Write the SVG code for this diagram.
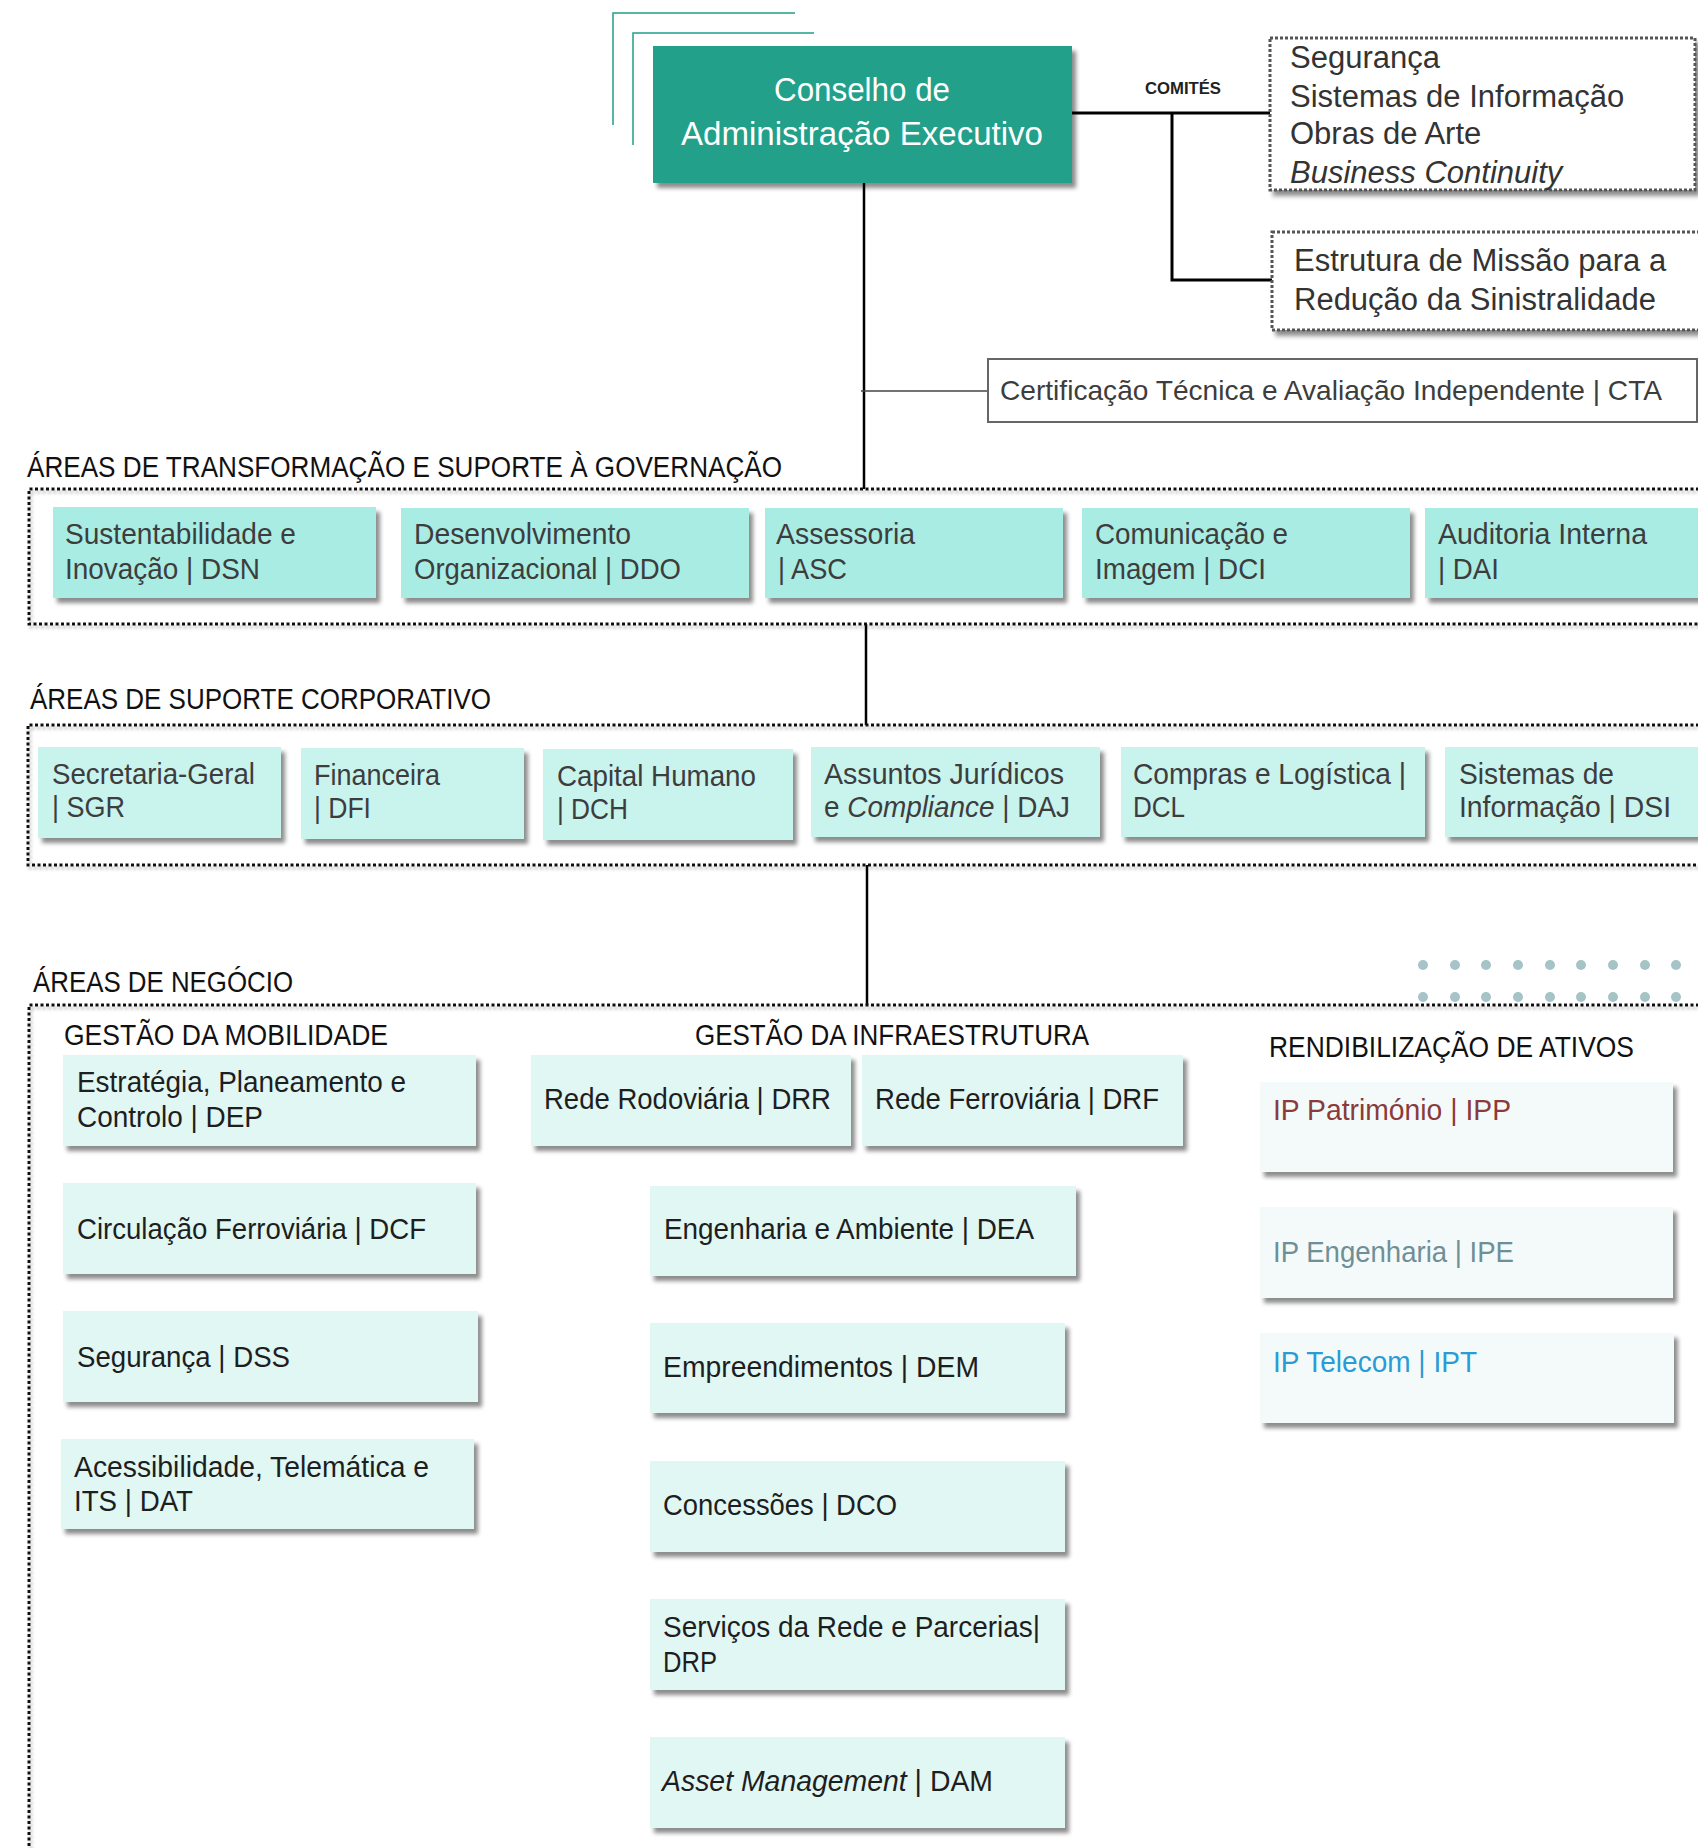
<svg xmlns="http://www.w3.org/2000/svg" width="1698" height="1848" viewBox="0 0 1698 1848">
<defs>
<filter id="sh" x="-10%" y="-20%" width="130%" height="160%">
<feDropShadow dx="4" dy="5" stdDeviation="2.2" flood-color="#000" flood-opacity="0.45"/>
</filter>
<filter id="shf" x="-5%" y="-5%" width="110%" height="120%">
<feDropShadow dx="2" dy="3" stdDeviation="1.5" flood-color="#000" flood-opacity="0.25"/>
</filter>
</defs>
<style>
text { font-family: "Liberation Sans", Arial, sans-serif; }
.n1 { fill: #A8ECE3; filter: url(#sh); }
.n2 { fill: #C9F3ED; filter: url(#sh); }
.n3 { fill: #E0F7F4; filter: url(#sh); }
.n4 { fill: #F4FAFA; filter: url(#sh); }
.tx1 { font-size: 29px; fill: #3d3d3d; }
.tx3 { font-size: 29px; fill: #1e1e1e; }
.hd { font-size: 30px; fill: #111; }
.cm { font-size: 31px; fill: #333; }
.frame { fill: none; stroke: #111; stroke-width: 3; stroke-dasharray: 3 2.5; filter: url(#shf); }
.cbox { fill: #fff; stroke: #555; stroke-width: 3; stroke-dasharray: 3 2; filter: url(#sh); }
.ln { fill: none; stroke: #000; stroke-width: 2.5; }
.lnb { fill: none; stroke: #000; stroke-width: 3; }
.deco { fill: none; stroke: #20A08A; stroke-width: 1.5; }
.dot { fill: #A6C3C7; }
</style>
<rect width="1698" height="1848" fill="#fff"/>

<g id="decoration">
<path class="deco" d="M613,125 V13 H795"/>
<path class="deco" d="M633,145 V33 H814"/>
<g id="dots">
<circle class="dot" cx="1423" cy="965" r="5"/><circle class="dot" cx="1455" cy="965" r="5"/><circle class="dot" cx="1486" cy="965" r="5"/><circle class="dot" cx="1518" cy="965" r="5"/><circle class="dot" cx="1550" cy="965" r="5"/><circle class="dot" cx="1581" cy="965" r="5"/><circle class="dot" cx="1613" cy="965" r="5"/><circle class="dot" cx="1645" cy="965" r="5"/><circle class="dot" cx="1676" cy="965" r="5"/>
<circle class="dot" cx="1423" cy="997" r="5"/><circle class="dot" cx="1455" cy="997" r="5"/><circle class="dot" cx="1486" cy="997" r="5"/><circle class="dot" cx="1518" cy="997" r="5"/><circle class="dot" cx="1550" cy="997" r="5"/><circle class="dot" cx="1581" cy="997" r="5"/><circle class="dot" cx="1613" cy="997" r="5"/><circle class="dot" cx="1645" cy="997" r="5"/><circle class="dot" cx="1676" cy="997" r="5"/>
</g>
</g>

<g id="connectors">
<path class="ln" d="M864,183 V489"/>
<path class="lnb" d="M1072,113 H1270"/>
<path class="lnb" d="M1172,113 V280 H1272"/>
<path d="M861,391 H988" fill="none" stroke="#444" stroke-width="1.6"/>
<path class="ln" d="M866,624 V725"/>
<path class="ln" d="M867,865 V1005"/>
</g>

<g id="frames">
<path class="frame" d="M1710,489 H29 V624 H1710"/>
<path class="frame" d="M1710,725 H28 V865 H1710"/>
<path class="frame" d="M1710,1005 H29 V1860"/>
<text class="hd" x="27" y="477" textLength="755" lengthAdjust="spacingAndGlyphs">ÁREAS DE TRANSFORMAÇÃO E SUPORTE À GOVERNAÇÃO</text>
<text class="hd" x="30" y="709" textLength="461" lengthAdjust="spacingAndGlyphs">ÁREAS DE SUPORTE CORPORATIVO</text>
<text class="hd" x="33" y="992" textLength="260" lengthAdjust="spacingAndGlyphs">ÁREAS DE NEGÓCIO</text>
<text class="hd" x="64" y="1045" textLength="324" lengthAdjust="spacingAndGlyphs">GESTÃO DA MOBILIDADE</text>
<text class="hd" x="695" y="1045" textLength="394" lengthAdjust="spacingAndGlyphs">GESTÃO DA INFRAESTRUTURA</text>
<text class="hd" x="1269" y="1057" textLength="365" lengthAdjust="spacingAndGlyphs">RENDIBILIZAÇÃO DE ATIVOS</text>
<text x="1145" y="94" font-size="17" font-weight="bold" fill="#222" textLength="76" lengthAdjust="spacingAndGlyphs">COMITÉS</text>
</g>

<g id="cae">
<rect x="653" y="46" width="419" height="137" fill="#21A08A" filter="url(#sh)"/>
<text x="862" y="101" font-size="33" fill="#fff" text-anchor="middle" textLength="176" lengthAdjust="spacingAndGlyphs">Conselho de</text>
<text x="862" y="145" font-size="33" fill="#fff" text-anchor="middle" textLength="362" lengthAdjust="spacingAndGlyphs">Administração Executivo</text>
</g>

<g id="comites1">
<rect class="cbox" x="1270" y="38" width="425" height="152"/>
<text class="cm" x="1290" y="68">Segurança</text>
<text class="cm" x="1290" y="107">Sistemas de Informação</text>
<text class="cm" x="1290" y="144">Obras de Arte</text>
<text class="cm" x="1290" y="183" font-style="italic">Business Continuity</text>
</g>

<g id="comites2">
<rect class="cbox" x="1272" y="232" width="440" height="98"/>
<text class="cm" x="1294" y="271">Estrutura de Missão para a</text>
<text class="cm" x="1294" y="310">Redução da Sinistralidade</text>
</g>

<g id="cta">
<rect x="988" y="359" width="709" height="63" fill="#fff" stroke="#666" stroke-width="2"/>
<text x="1000" y="400" font-size="28" fill="#3d3d3d" textLength="662" lengthAdjust="spacingAndGlyphs">Certificação Técnica e Avaliação Independente | CTA</text>
</g>

<g id="dsn">
<rect class="n1" x="53" y="507" width="323" height="91"/>
<text class="tx1" x="65" y="544" textLength="231" lengthAdjust="spacingAndGlyphs">Sustentabilidade e</text>
<text class="tx1" x="65" y="579" textLength="195" lengthAdjust="spacingAndGlyphs">Inovação | DSN</text>
</g>
<g id="ddo">
<rect class="n1" x="401" y="508" width="348" height="90"/>
<text class="tx1" x="414" y="544" textLength="217" lengthAdjust="spacingAndGlyphs">Desenvolvimento</text>
<text class="tx1" x="414" y="579" textLength="267" lengthAdjust="spacingAndGlyphs">Organizacional | DDO</text>
</g>
<g id="asc">
<rect class="n1" x="765" y="508" width="298" height="90"/>
<text class="tx1" x="776" y="544" textLength="139" lengthAdjust="spacingAndGlyphs">Assessoria</text>
<text class="tx1" x="778" y="579" textLength="69" lengthAdjust="spacingAndGlyphs">| ASC</text>
</g>
<g id="dci">
<rect class="n1" x="1082" y="508" width="328" height="90"/>
<text class="tx1" x="1095" y="544" textLength="193" lengthAdjust="spacingAndGlyphs">Comunicação e</text>
<text class="tx1" x="1095" y="579" textLength="171" lengthAdjust="spacingAndGlyphs">Imagem | DCI</text>
</g>
<g id="dai">
<rect class="n1" x="1425" y="508" width="300" height="90"/>
<text class="tx1" x="1438" y="544" textLength="209" lengthAdjust="spacingAndGlyphs">Auditoria Interna</text>
<text class="tx1" x="1438" y="579" textLength="61" lengthAdjust="spacingAndGlyphs">| DAI</text>
</g>

<g id="sgr">
<rect class="n2" x="38" y="747" width="243" height="91"/>
<text class="tx1" x="52" y="784" textLength="203" lengthAdjust="spacingAndGlyphs">Secretaria-Geral</text>
<text class="tx1" x="52" y="817" textLength="73" lengthAdjust="spacingAndGlyphs">| SGR</text>
</g>
<g id="dfi">
<rect class="n2" x="301" y="748" width="223" height="91"/>
<text class="tx1" x="314" y="785" textLength="126" lengthAdjust="spacingAndGlyphs">Financeira</text>
<text class="tx1" x="314" y="818" textLength="57" lengthAdjust="spacingAndGlyphs">| DFI</text>
</g>
<g id="dch">
<rect class="n2" x="543" y="749" width="250" height="91"/>
<text class="tx1" x="557" y="786" textLength="199" lengthAdjust="spacingAndGlyphs">Capital Humano</text>
<text class="tx1" x="557" y="819" textLength="71" lengthAdjust="spacingAndGlyphs">| DCH</text>
</g>
<g id="daj">
<rect class="n2" x="811" y="747" width="289" height="90"/>
<text class="tx1" x="824" y="784" textLength="240" lengthAdjust="spacingAndGlyphs">Assuntos Jurídicos</text>
<text class="tx1" x="824" y="817" textLength="246" lengthAdjust="spacingAndGlyphs">e <tspan font-style="italic">Compliance</tspan> | DAJ</text>
</g>
<g id="dcl">
<rect class="n2" x="1121" y="747" width="304" height="90"/>
<text class="tx1" x="1133" y="784" textLength="273" lengthAdjust="spacingAndGlyphs">Compras e Logística |</text>
<text class="tx1" x="1133" y="817" textLength="52" lengthAdjust="spacingAndGlyphs">DCL</text>
</g>
<g id="dsi">
<rect class="n2" x="1445" y="747" width="280" height="90"/>
<text class="tx1" x="1459" y="784" textLength="155" lengthAdjust="spacingAndGlyphs">Sistemas de</text>
<text class="tx1" x="1459" y="817" textLength="212" lengthAdjust="spacingAndGlyphs">Informação | DSI</text>
</g>

<g id="dep">
<rect class="n3" x="63" y="1055" width="413" height="91"/>
<text class="tx3" x="77" y="1092" textLength="329" lengthAdjust="spacingAndGlyphs">Estratégia, Planeamento e</text>
<text class="tx3" x="77" y="1127" textLength="186" lengthAdjust="spacingAndGlyphs">Controlo | DEP</text>
</g>
<g id="dcf">
<rect class="n3" x="63" y="1183" width="413" height="91"/>
<text class="tx3" x="77" y="1239" textLength="349" lengthAdjust="spacingAndGlyphs">Circulação Ferroviária | DCF</text>
</g>
<g id="dss">
<rect class="n3" x="63" y="1311" width="415" height="91"/>
<text class="tx3" x="77" y="1367" textLength="213" lengthAdjust="spacingAndGlyphs">Segurança | DSS</text>
</g>
<g id="dat">
<rect class="n3" x="61" y="1439" width="413" height="90"/>
<text class="tx3" x="74" y="1477" textLength="355" lengthAdjust="spacingAndGlyphs">Acessibilidade, Telemática e</text>
<text class="tx3" x="74" y="1511" textLength="119" lengthAdjust="spacingAndGlyphs">ITS | DAT</text>
</g>

<g id="drr">
<rect class="n3" x="531" y="1055" width="320" height="91"/>
<text class="tx3" x="544" y="1109" textLength="287" lengthAdjust="spacingAndGlyphs">Rede Rodoviária | DRR</text>
</g>
<g id="drf">
<rect class="n3" x="862" y="1055" width="321" height="91"/>
<text class="tx3" x="875" y="1109" textLength="284" lengthAdjust="spacingAndGlyphs">Rede Ferroviária | DRF</text>
</g>
<g id="dea">
<rect class="n3" x="650" y="1186" width="426" height="90"/>
<text class="tx3" x="664" y="1239" textLength="370" lengthAdjust="spacingAndGlyphs">Engenharia e Ambiente | DEA</text>
</g>
<g id="dem">
<rect class="n3" x="650" y="1323" width="415" height="90"/>
<text class="tx3" x="663" y="1377" textLength="316" lengthAdjust="spacingAndGlyphs">Empreendimentos | DEM</text>
</g>
<g id="dco">
<rect class="n3" x="650" y="1461" width="415" height="91"/>
<text class="tx3" x="663" y="1515" textLength="234" lengthAdjust="spacingAndGlyphs">Concessões | DCO</text>
</g>
<g id="drp">
<rect class="n3" x="650" y="1599" width="415" height="91"/>
<text class="tx3" x="663" y="1637" textLength="377" lengthAdjust="spacingAndGlyphs">Serviços da Rede e Parcerias|</text>
<text class="tx3" x="663" y="1672" textLength="54" lengthAdjust="spacingAndGlyphs">DRP</text>
</g>
<g id="dam">
<rect class="n3" x="650" y="1737" width="415" height="91"/>
<text class="tx3" x="662" y="1791" textLength="331" lengthAdjust="spacingAndGlyphs"><tspan font-style="italic">Asset Management</tspan> | DAM</text>
</g>

<g id="ipp">
<rect class="n4" x="1260" y="1082" width="413" height="90"/>
<text x="1273" y="1120" font-size="29" fill="#8A3B3B" textLength="238" lengthAdjust="spacingAndGlyphs">IP Património | IPP</text>
</g>
<g id="ipe">
<rect class="n4" x="1260" y="1207" width="413" height="91"/>
<text x="1273" y="1262" font-size="29" fill="#6F8F97" textLength="241" lengthAdjust="spacingAndGlyphs">IP Engenharia | IPE</text>
</g>
<g id="ipt">
<rect class="n4" x="1260" y="1333" width="414" height="90"/>
<text x="1273" y="1372" font-size="29" fill="#2A9BD5" textLength="204" lengthAdjust="spacingAndGlyphs">IP Telecom | IPT</text>
</g>
</svg>
